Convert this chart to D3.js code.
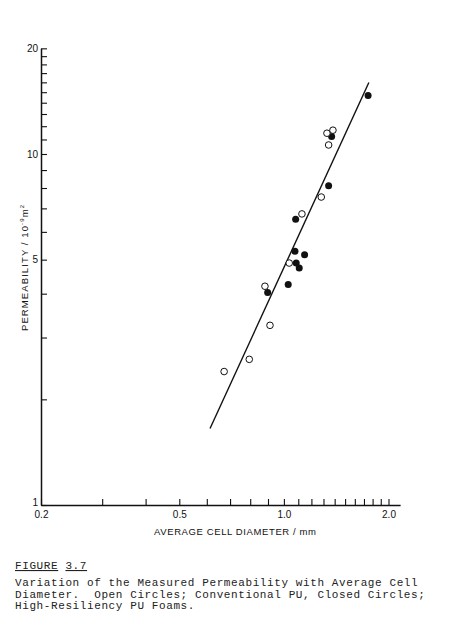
<!DOCTYPE html>
<html>
<head>
<meta charset="utf-8">
<script src="https://cdn.jsdelivr.net/npm/d3@7"></script>
<style>
  html, body { margin: 0; padding: 0; background: #fff; }
  svg { display: block; }
  .ax text { font-family: "Liberation Sans", Arial, sans-serif; font-size: 10px; fill: #111; }
  .ax path, .ax line { stroke: #111; }
  .cap { font-family: "Liberation Mono", "Courier New", monospace; font-size: 11px; letter-spacing: 0.6px; fill: #222; }
</style>
</head>
<body>
<script>
// ---- data ----
const openX   = [1.330, 1.384, 1.345, 1.281, 1.127, 1.036, 0.882, 0.912, 0.795, 0.673];
const openY   = [11.46, 11.69, 10.61, 7.54, 6.75, 4.89, 4.20, 3.25, 2.60, 2.40];
const closedX = [1.747, 1.372, 1.345, 1.081, 1.076, 1.147, 1.085, 1.107, 1.029, 0.898];
const closedY = [14.68, 11.21, 8.12, 6.52, 5.28, 5.16, 4.89, 4.73, 4.25, 4.03];
const fitX = [0.613, 1.756];
const fitY = [1.652, 15.99];
const xTickValues = [0.2, 0.3, 0.4, 0.5, 0.6, 0.7, 0.8, 0.9, 1.0, 1.1, 1.2, 1.3, 1.4, 1.5, 1.6, 1.7, 1.8, 1.9, 2.0];
const xTickLabels = {"0.2": "0.2", "0.5": "0.5", "1": "1.0", "2": "2.0"};
const yTickValues = [1, 2, 3, 4, 5, 6, 7, 8, 9, 10, 11, 12, 13, 14, 15, 16, 17, 18, 19, 20];
const yTickLabels = {"1": "1", "5": "5", "10": "10", "20": "20"};
const xTitle = "AVERAGE CELL DIAMETER / mm";
const captionHead = ["FIGURE", "3.7"];
const captionLines = [
  "Variation of the Measured Permeability with Average Cell",
  "Diameter.  Open Circles; Conventional PU, Closed Circles;",
  "High-Resiliency PU Foams."
];

const W = 456, H = 625;
const svg = d3.select("body").append("svg").attr("width", W).attr("height", H);

const x = d3.scaleLog().domain([0.2, 2.16]).range([41, 41 + 347.5 * Math.log10(2.16 / 0.2)]);
const y = d3.scaleLog().domain([1, 20]).range([505, 505 - 351 * Math.log10(20)]);

// axes
const xAxis = d3.axisBottom(x).tickValues(xTickValues)
  .tickSizeInner(-6).tickSizeOuter(0).tickPadding(6)
  .tickFormat(d => xTickLabels[String(+d.toFixed(1))] || "");
const gx = svg.append("g").attr("class", "ax").attr("transform", `translate(0,${y(1)})`).call(xAxis);
gx.select(".domain").attr("stroke-width", 1.5);
gx.selectAll(".tick line").attr("stroke-width", 1.1);

const yAxis = d3.axisLeft(y).tickValues(yTickValues)
  .tickSizeInner(-6).tickSizeOuter(0).tickPadding(3)
  .tickFormat(d => yTickLabels[String(d)] || "");
const gy = svg.append("g").attr("class", "ax").attr("transform", `translate(${x(0.2)},0)`).call(yAxis);
gy.select(".domain").attr("stroke-width", 1.5);
gy.selectAll(".tick line").attr("stroke-width", 1.1);
gy.selectAll(".tick text").filter(d => d === 1).attr("dy", "0.05em");

// axis titles
svg.append("text")
  .attr("x", 235).attr("y", 535)
  .attr("text-anchor", "middle")
  .attr("textLength", 162).attr("lengthAdjust", "spacing")
  .style("font-family", "'Liberation Sans', Arial, sans-serif").style("font-size", "9.5px").style("fill", "#111")
  .text(xTitle);

const yl = svg.append("text")
  .attr("transform", "translate(28,268) rotate(-90)")
  .attr("text-anchor", "middle")
  .attr("textLength", 126).attr("lengthAdjust", "spacing")
  .style("font-family", "'Liberation Sans', Arial, sans-serif").style("font-size", "9.5px").style("fill", "#111");
yl.append("tspan").text("PERMEABILITY / 10");
yl.append("tspan").attr("dy", -4).style("font-size", "6px").text("-9");
yl.append("tspan").attr("dy", 4).text("m");
yl.append("tspan").attr("dy", -4).style("font-size", "6px").text("2");

// fit line
svg.append("line")
  .attr("x1", x(fitX[0])).attr("y1", y(fitY[0]))
  .attr("x2", x(fitX[1])).attr("y2", y(fitY[1]))
  .attr("stroke", "#111").attr("stroke-width", 1.4);

// points
const openData = openX.map((v, i) => [v, openY[i]]);
const closedData = closedX.map((v, i) => [v, closedY[i]]);
svg.append("g").selectAll("circle").data(closedData).join("circle")
  .attr("cx", d => x(d[0])).attr("cy", d => y(d[1])).attr("r", 3.5)
  .attr("fill", "#111");
svg.append("g").selectAll("circle").data(openData).join("circle")
  .attr("cx", d => x(d[0])).attr("cy", d => y(d[1])).attr("r", 3.3)
  .attr("fill", "#fff").attr("stroke", "#111").attr("stroke-width", 1);

// caption
const head = svg.append("text").attr("class", "cap").attr("x", 15).attr("y", 569);
head.append("tspan").text(captionHead[0]).style("text-decoration", "underline");
head.append("tspan").text(" ");
head.append("tspan").text(captionHead[1]).style("text-decoration", "underline");

captionLines.forEach((t, i) => {
  svg.append("text").attr("class", "cap")
    .attr("x", 15).attr("y", 586 + i * 11.7)
    .attr("xml:space", "preserve").style("white-space", "pre")
    .text(t);
});
</script>
</body>
</html>
